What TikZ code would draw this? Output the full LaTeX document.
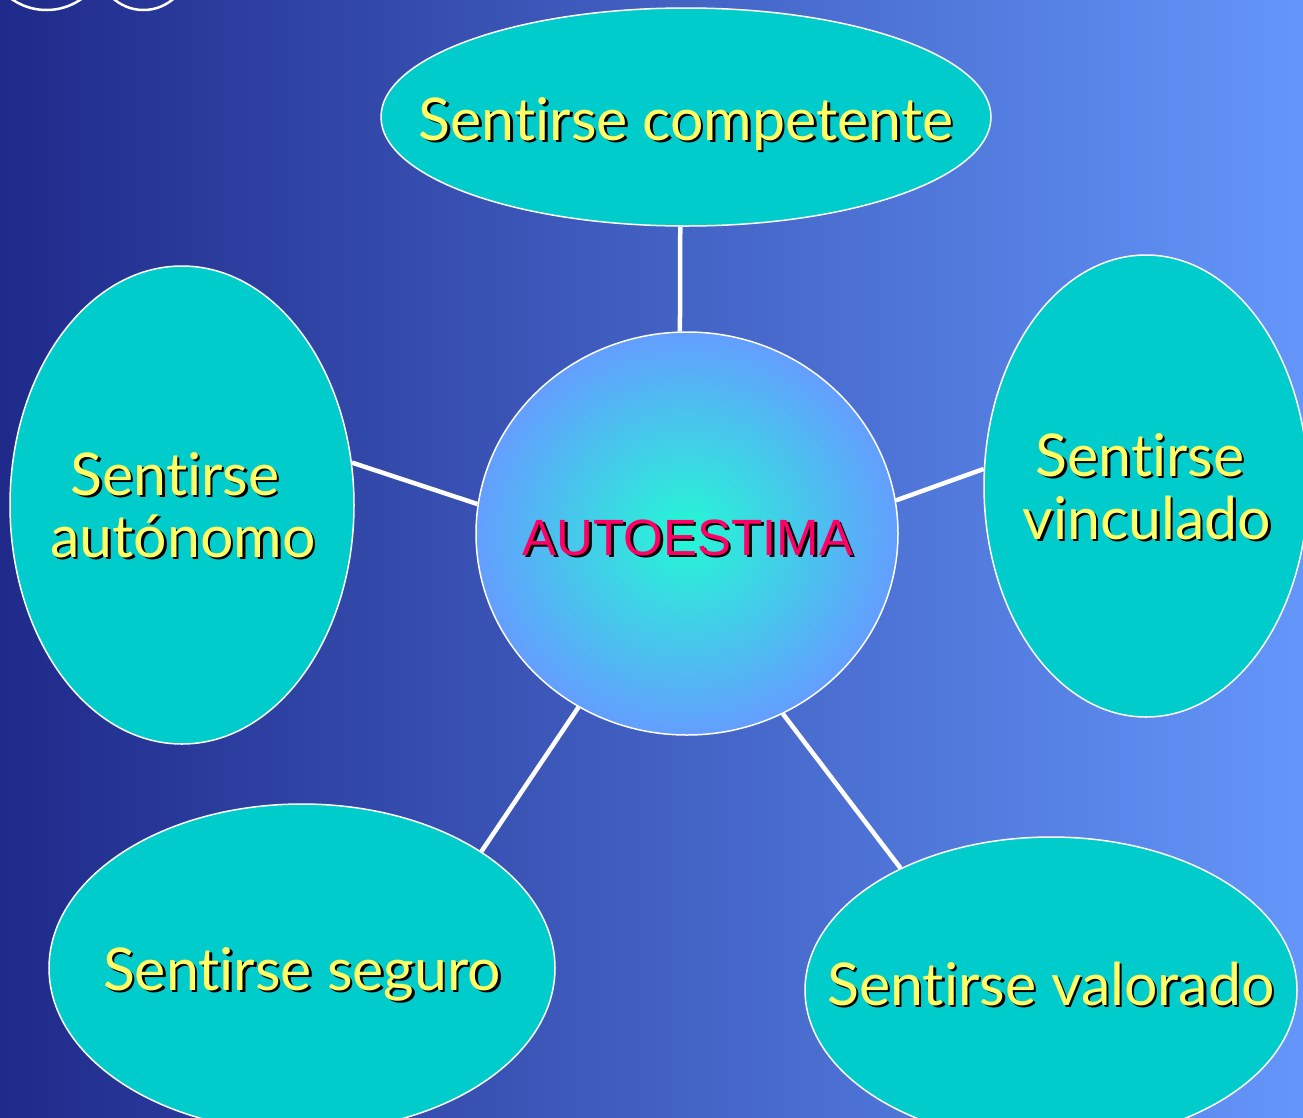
\documentclass[tikz,border=0pt]{standalone}
\usepackage{fontspec}
\setmainfont[Ligatures={NoCommon,NoDiscretionary,NoContextual}]{Lato}
\newfontfamily\arialf{Liberation Sans}
\usetikzlibrary{shapes.geometric}
\definecolor{bgL}{RGB}{31,42,138}
\definecolor{bgR}{RGB}{100,150,250}
\definecolor{bubblefill}{RGB}{0,204,204}
\definecolor{txtY}{RGB}{255,255,102}
\definecolor{autoR}{RGB}{255,0,102}
\definecolor{glowC}{RGB}{36,248,212}
\definecolor{glowO}{RGB}{100,158,255}
\newcommand\shtxt[1]{\leavevmode\rlap{\kern2.5pt\raisebox{-2.5pt}{\color{black}#1}}#1}
\tikzset{
  bubble/.style={ellipse, draw=white, line width=1.5pt, fill=bubblefill, inner sep=0pt},
  conn/.style={draw=white, line width=4.5pt},
  lab/.style={anchor=base, inner sep=0pt, text=txtY, font=\fontsize{59}{66}\selectfont},
  deco/.style={draw=white, line width=2.5pt}
}
\begin{document}
\begin{tikzpicture}[x=1pt,y=-1pt]
\useasboundingbox (0,0) rectangle (1303,1117);
\begin{scope}
\clip (0,0) rectangle (1303,1117);
\shade[left color=bgL, right color=bgR] (0,0) rectangle (1303,1117);
\draw[deco] (46.5,-51) circle[radius=61];
\draw[deco] (143.5,-35.6) circle[radius=45.6];

\node[bubble, minimum width=610pt, minimum height=218pt] (top) at (686,117) {};
\node[bubble, minimum width=344pt, minimum height=478pt] (left) at (182,505) {};
\node[bubble, minimum width=324pt, minimum height=462pt] (right) at (1146,486) {};
\node[bubble, minimum width=506pt, minimum height=328pt] (bl) at (302,968) {};
\node[bubble, minimum width=492pt, minimum height=306pt] (br) at (1051,990) {};
\node[ellipse, draw=white, line width=1.5pt, inner color=glowC, outer color=glowO, minimum width=422pt, minimum height=403pt, inner sep=0pt] (mid) at (687,533.5) {};

\draw[conn] (mid.92) -- (top.267);
\draw[conn] (mid.172) -- (left.14);
\draw[conn] (mid.9) -- (right.174);
\draw[conn] (mid.238.4) -- (bl.33.6);
\draw[conn] (mid.298) -- (br.141);

\node[lab] (ttop) at (686,140) {\shtxt{Sentirse competente}};
\node[lab] (tl1) at (175,495) {\shtxt{Sentirse}};
\node[lab] (tl2) at (183,557) {\shtxt{autónomo}};
\node[lab] (tr1) at (1140,476) {\shtxt{Sentirse}};
\node[lab] (tr2) at (1147,539) {\shtxt{vinculado}};
\node[lab] (tbl) at (302,990) {\shtxt{Sentirse seguro}};
\node[lab] (tbr) at (1051,1005) {\shtxt{Sentirse valorado}};
\node[anchor=base, inner sep=0pt, text=autoR, font=\arialf\fontsize{51}{60}\selectfont] (tmid) at (688,555) {\shtxt{AUTOESTIMA}};
\end{scope}
\end{tikzpicture}
\end{document}
